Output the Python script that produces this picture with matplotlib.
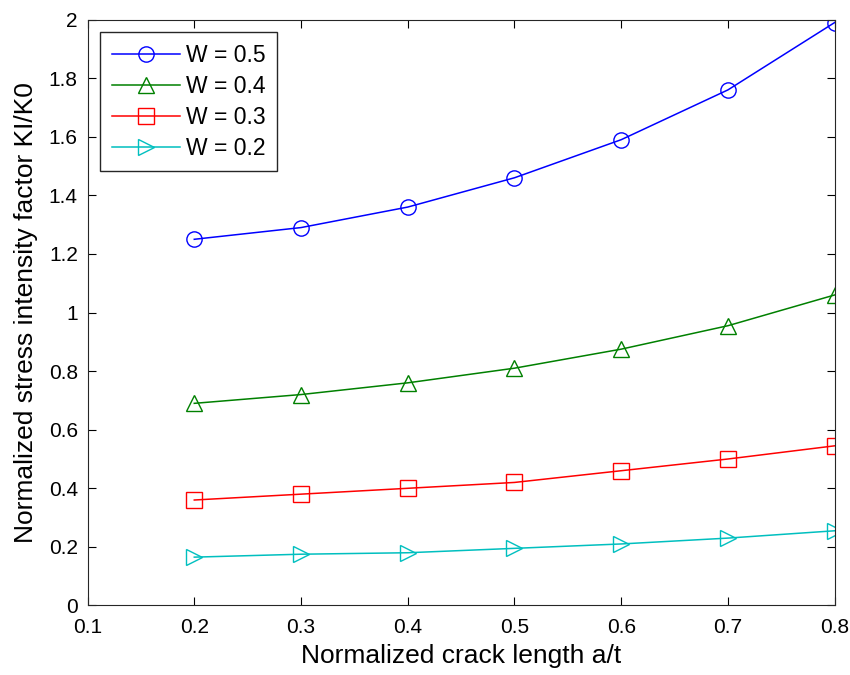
import matplotlib.pyplot as plt

plt.rcParams['font.family'] = ['Liberation Sans', 'DejaVu Sans']

# crack length a/t
a_t = [0.2, 0.3, 0.4, 0.5, 0.6, 0.7, 0.8]

# normalized SIF KI/K0 for each W
k_w05 = [1.25, 1.29, 1.36, 1.46, 1.59, 1.76, 1.99]
k_w04 = [0.69, 0.72, 0.76, 0.81, 0.875, 0.955, 1.06]
k_w03 = [0.36, 0.38, 0.40, 0.42, 0.46, 0.50, 0.545]
k_w02 = [0.165, 0.175, 0.18, 0.195, 0.21, 0.23, 0.255]

series = [
    ('W = 0.5', k_w05, '#0000ff', 'o'),
    ('W = 0.4', k_w04, '#008000', '^'),
    ('W = 0.3', k_w03, '#ff0000', 's'),
    ('W = 0.2', k_w02, '#00bfbf', '>'),
]

fig = plt.figure(figsize=(8.5, 6.75), dpi=100)
ax = fig.add_axes([0.103, 0.103, 0.879, 0.868])

for label, vals, col, mk in series:
    ax.plot(a_t, vals, color=col, marker=mk, markersize=11, markerfacecolor='none',
            markeredgecolor=col, linewidth=1.1, label=label)

ax.set_xlim(0.1, 0.8)
ax.set_ylim(0, 2)
ax.set_xticks([0.1, 0.2, 0.3, 0.4, 0.5, 0.6, 0.7, 0.8])
ax.set_xticklabels(['0.1', '0.2', '0.3', '0.4', '0.5', '0.6', '0.7', '0.8'])
ax.set_yticks([0, 0.2, 0.4, 0.6, 0.8, 1, 1.2, 1.4, 1.6, 1.8, 2])
ax.set_yticklabels(['0', '0.2', '0.4', '0.6', '0.8', '1', '1.2', '1.4', '1.6', '1.8', '2'])
ax.tick_params(direction='in', top=True, right=True, length=6, labelsize=15)
ax.tick_params(axis='x', pad=9)
ax.tick_params(axis='y', pad=7)
for s in ax.spines.values():
    s.set_color('#262626')

ax.set_xlabel('Normalized crack length a/t', fontsize=19, labelpad=5)
ax.set_ylabel('Normalized stress intensity factor KI/K0', fontsize=19, labelpad=8)

leg = ax.legend(loc='upper left', fontsize=16.5, fancybox=False, framealpha=1,
                edgecolor='#262626', handlelength=3.0, handletextpad=0.25,
                borderpad=0.5, labelspacing=0.35, borderaxespad=0.55)
leg.get_frame().set_linewidth(1.0)

fig.savefig('out.png', dpi=100)
